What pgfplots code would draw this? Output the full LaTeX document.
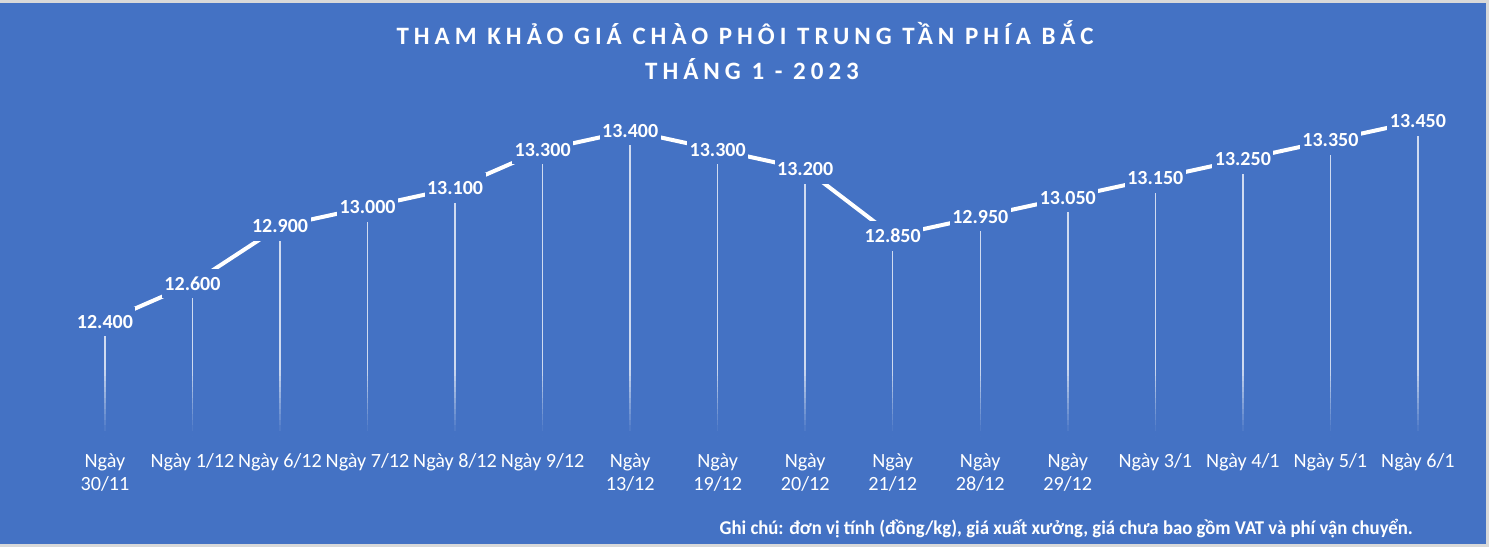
\documentclass[border=0pt]{standalone}
\usepackage{fontspec}
\setmainfont{Carlito}
\newfontfamily\titlefont[LetterSpace=20]{Carlito}
\usepackage{pgfplots}
\pgfplotsset{compat=1.18}
\definecolor{bg}{RGB}{68,114,196}
\definecolor{edge}{RGB}{217,217,217}
\begin{document}
\begin{tikzpicture}
\fill[edge] (0pt,0pt) rectangle (1489pt,547pt);
\fill[bg] (0pt,3pt) rectangle (1486pt,544pt);
\node[text=white, font=\titlefont\bfseries\fontsize{25}{30}\selectfont] at (745pt,514.5pt) {THAM KHẢO GIÁ CHÀO PHÔI TRUNG TẦN PHÍA BẮC};
\node[text=white, font=\titlefont\bfseries\fontsize{25}{30}\selectfont] at (752pt,477.7pt) {THÁNG 1 - 2023};
\node[text=white, font=\bfseries\fontsize{19.5}{23}\selectfont, anchor=east, inner sep=0pt] at (1413pt,18.3pt) {\scalebox{0.962}[1]{Ghi chú: đơn vị tính (đồng/kg), giá xuất xưởng, giá chưa bao gồm VAT và phí vận chuyển.}};
\begin{axis}[
  at={(61.2pt,110.8pt)}, anchor=south west, scale only axis,
  width=1400.5pt, height=343.6pt,
  xmin=-0.5, xmax=15.5, ymin=11800, ymax=13600,
  axis line style={draw=none}, tick style={draw=none},
  ytick=\empty,
  xtick={0,...,15},
  xticklabels={{Ngày\\30/11},{Ngày 1/12},{Ngày 6/12},{Ngày 7/12},{Ngày 8/12},{Ngày 9/12},{Ngày\\13/12},{Ngày\\19/12},{Ngày\\20/12},{Ngày\\21/12},{Ngày\\28/12},{Ngày\\29/12},{Ngày 3/1},{Ngày 4/1},{Ngày 5/1},{Ngày 6/1}},
  xticklabel style={text=white, font=\fontsize{20.2}{23.3}\selectfont, align=center, anchor=north, inner sep=0pt, yshift=-17pt},
  clip=false,
  unbounded coords=jump,
]
\addplot[draw=white, draw opacity=0.75, line width=1.5pt] coordinates {
 (0,11800) (0,12400) (0,nan)
 (1,11800) (1,12600) (1,nan)
 (2,11800) (2,12900) (2,nan)
 (3,11800) (3,13000) (3,nan)
 (4,11800) (4,13100) (4,nan)
 (5,11800) (5,13300) (5,nan)
 (6,11800) (6,13400) (6,nan)
 (7,11800) (7,13300) (7,nan)
 (8,11800) (8,13200) (8,nan)
 (9,11800) (9,12850) (9,nan)
 (10,11800) (10,12950) (10,nan)
 (11,11800) (11,13050) (11,nan)
 (12,11800) (12,13150) (12,nan)
 (13,11800) (13,13250) (13,nan)
 (14,11800) (14,13350) (14,nan)
 (15,11800) (15,13450)
};
\addplot[draw=white, line width=4pt, mark=none,
  nodes near coords={\pgfmathprintnumber[fixed, precision=0, 1000 sep={.}, assume math mode=true]{\pgfplotspointmeta}},
  every node near coord/.style={text=white, fill=bg, font=\bfseries\fontsize{20}{24}\selectfont, anchor=center, inner xsep=2.5pt, inner ysep=8pt},
] coordinates {
 (0,12400) (1,12600) (2,12900) (3,13000) (4,13100) (5,13300) (6,13400) (7,13300)
 (8,13200) (9,12850) (10,12950) (11,13050) (12,13150) (13,13250) (14,13350) (15,13450)
};
\end{axis}
% fade the lower ends of the drop lines into the background
\foreach \k in {1,...,12}{
  \pgfmathsetmacro{\ytop}{110.8+(13-\k)*5.5}
  \pgfmathsetmacro{\op}{\k/12}
  \fill[bg, opacity=\op] (61.2pt,\ytop pt-5.5pt) rectangle (1461.7pt,\ytop pt);
}
\end{tikzpicture}
\end{document}
